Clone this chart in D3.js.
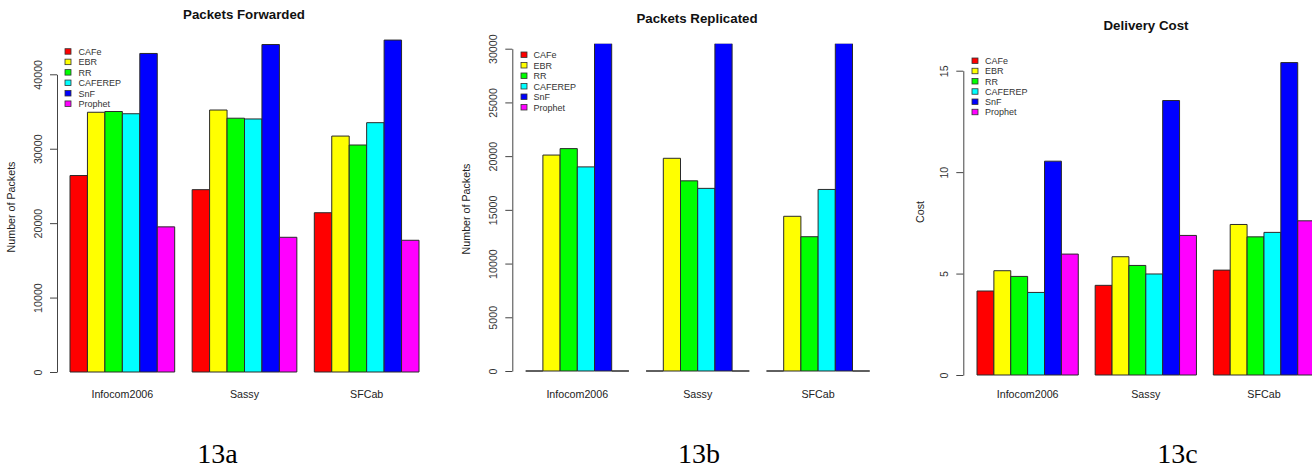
<!DOCTYPE html>
<html>
<head>
<meta charset="utf-8">
<script src="https://cdn.jsdelivr.net/npm/d3@7"></script>
<style>
  html, body { margin: 0; padding: 0; background: #fff; }
  svg { display: block; font-family: "Liberation Sans", Arial, sans-serif; }
</style>
</head>
<body>
<svg id="chart" width="1312" height="471"></svg>
<script>
// Datasets shown on the x axis of every panel
const categories = ["Infocom2006", "Sassy", "SFCab"];
// Routing protocols, one bar each inside a group
const protocols = ["CAFe", "EBR", "RR", "CAFEREP", "SnF", "Prophet"];
const protocolColors = ["#ff0000", "#ffff00", "#00ff00", "#00ffff", "#0000ff", "#ff00ff"];

// Rows follow `categories`, columns follow `protocols`
const packetsForwarded = [
  [26400, 34900, 35000, 34700, 42800, 19500],
  [24500, 35200, 34100, 34000, 44000, 18100],
  [21400, 31700, 30500, 33500, 44600, 17700]
];
const packetsReplicated = [
  [0, 20100, 20700, 19000, 30500, 0],
  [0, 19800, 17700, 17000, 30500, 0],
  [0, 14400, 12500, 16900, 30500, 0]
];
const deliveryCost = [
  [4.14, 5.14, 4.86, 4.07, 10.54, 5.96],
  [4.42, 5.83, 5.40, 4.98, 13.53, 6.88],
  [5.17, 7.42, 6.81, 7.03, 15.40, 7.60]
];

const forwardedTicks = [0, 10000, 20000, 30000, 40000];
const replicatedTicks = [0, 5000, 10000, 15000, 20000, 25000, 30000];
const costTicks = [0, 5, 10, 15];

const panelCaptions = ["13a", "13b", "13c"];

const svg = d3.select("#chart");

// Layout of each panel
const panels = [
  {
    title: "Packets Forwarded", titleX: 244, titleY: 19,
    ylabel: "Number of Packets", ylabelX: 15, ylabelY: 207,
    data: packetsForwarded, ticks: forwardedTicks,
    axisX: 57, y0: 372, yTopTick: 74.3, clipTop: 0,
    barLeft: 70, barRight: 419,
    legendSwatchX: 65, legendTextX: 78.5, legendY: 51.7, legendStep: 10.45,
    caption: panelCaptions[0], captionX: 217.5
  },
  {
    title: "Packets Replicated", titleX: 697, titleY: 23,
    ylabel: "Number of Packets", ylabelX: 470, ylabelY: 209,
    data: packetsReplicated, ticks: replicatedTicks,
    axisX: 512.3, y0: 371, yTopTick: 48.7, clipTop: 43.7,
    barLeft: 525.7, barRight: 869.7,
    legendSwatchX: 521, legendTextX: 533.5, legendY: 55, legendStep: 10.5,
    caption: panelCaptions[1], captionX: 699
  },
  {
    title: "Delivery Cost", titleX: 1146, titleY: 30,
    ylabel: "Cost", ylabelX: 924, ylabelY: 212,
    data: deliveryCost, ticks: costTicks,
    axisX: 963.3, y0: 375, yTopTick: 70.7, clipTop: 0,
    barLeft: 977, barRight: 1314.6,
    legendSwatchX: 972, legendTextX: 985, legendY: 61, legendStep: 10.25,
    caption: panelCaptions[2], captionX: 1177.5
  }
];

panels.forEach((p, pi) => {
  const g = svg.append("g");
  const tickMax = d3.max(p.ticks);

  const y = d3.scaleLinear().domain([0, tickMax]).range([p.y0, p.yTopTick]);

  // Groups separated by a gap equal to one bar width
  const x0 = d3.scaleBand().domain(categories).range([p.barLeft, p.barRight])
    .paddingInner(1 / 7).paddingOuter(0);
  const x1 = d3.scaleBand().domain(protocols).range([0, x0.bandwidth()]).padding(0);
  const color = d3.scaleOrdinal().domain(protocols).range(protocolColors);

  // Clip bars to the plotting region
  const clipId = "clip" + pi;
  svg.append("clipPath").attr("id", clipId)
    .append("rect")
    .attr("x", p.barLeft - 5).attr("y", p.clipTop)
    .attr("width", p.barRight - p.barLeft + 10)
    .attr("height", p.y0 + 2 - p.clipTop);

  const bars = g.append("g").attr("clip-path", `url(#${clipId})`);
  categories.forEach((cat, ci) => {
    protocols.forEach((prot, si) => {
      const v = p.data[ci][si];
      const xl = x0(cat) + x1(prot);
      const xr = xl + x1.bandwidth();
      const yb = y(0), yt = y(v);
      // Drawn as a path so that zero-height bars still leave an outline
      bars.append("path")
        .attr("d", `M${xl},${yb}V${yt}H${xr}V${yb}Z`)
        .attr("fill", color(prot))
        .attr("stroke", "#2a2a2a")
        .attr("stroke-width", 1);
    });
  });

  // Y axis with rotated tick labels
  const axis = d3.axisLeft(y).tickValues(p.ticks).tickSize(7).tickSizeOuter(0)
    .tickFormat(d3.format("d"));
  const ag = g.append("g").attr("transform", `translate(${p.axisX},0)`).call(axis);
  ag.select(".domain").attr("stroke", "#444");
  ag.selectAll(".tick line").attr("stroke", "#444");
  ag.selectAll(".tick text")
    .attr("font-family", "Liberation Sans, Arial, sans-serif")
    .attr("font-size", 10.7)
    .attr("fill", "#333")
    .attr("text-anchor", "middle")
    .attr("x", 0)
    .attr("dy", 0)
    .attr("y", -15)
    .attr("transform", "rotate(-90)");

  // Category labels under each group
  g.selectAll(".cat").data(categories).enter().append("text")
    .attr("x", d => x0(d) + x0.bandwidth() / 2)
    .attr("y", 398)
    .attr("text-anchor", "middle")
    .attr("font-size", 10.7)
    .attr("fill", "#222")
    .text(d => d);

  // Title
  g.append("text")
    .attr("x", p.titleX).attr("y", p.titleY)
    .attr("text-anchor", "middle")
    .attr("font-size", 13.3)
    .attr("font-weight", "bold")
    .attr("fill", "#111")
    .text(p.title);

  // Y axis title
  g.append("text")
    .attr("transform", `translate(${p.ylabelX},${p.ylabelY}) rotate(-90)`)
    .attr("text-anchor", "middle")
    .attr("font-size", 10.7)
    .attr("fill", "#222")
    .text(p.ylabel);

  // Legend
  const lg = g.append("g");
  protocols.forEach((prot, i) => {
    const cy = p.legendY + i * p.legendStep;
    lg.append("rect")
      .attr("x", p.legendSwatchX).attr("y", cy - 3)
      .attr("width", 6).attr("height", 5.5)
      .attr("fill", color(prot))
      .attr("stroke", "#333").attr("stroke-width", 0.8);
    lg.append("text")
      .attr("x", p.legendTextX).attr("y", cy + 3.2)
      .attr("font-size", 9)
      .attr("fill", "#333")
      .text(prot);
  });

  // Panel caption
  svg.append("text")
    .attr("x", p.captionX).attr("y", 463)
    .attr("text-anchor", "middle")
    .attr("font-family", "Liberation Serif, Times New Roman, serif")
    .attr("font-size", 28)
    .attr("fill", "#000")
    .text(p.caption);
});
</script>
</body>
</html>
